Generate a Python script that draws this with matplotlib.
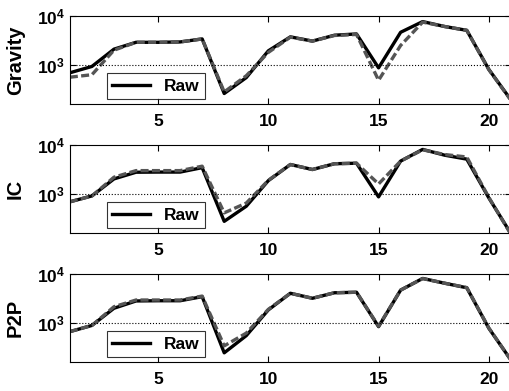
import numpy as np
import matplotlib
matplotlib.use("Agg")
import matplotlib.pyplot as plt
from matplotlib.ticker import FixedLocator, FuncFormatter, NullLocator

plt.rcParams['font.family'] = ['Liberation Sans', 'DejaVu Sans']
plt.rcParams['font.weight'] = 'bold'
plt.rcParams['mathtext.fontset'] = 'custom'
plt.rcParams['mathtext.rm'] = 'Liberation Sans:bold'
plt.rcParams['mathtext.bf'] = 'Liberation Sans:bold'

x = np.arange(1, 22)

# Gravity panel
grav_raw = [690, 930, 2100, 2900, 2900, 2950, 3400, 260, 550, 1940, 3750,
            3070, 4050, 4300, 870, 4650, 7700, 6100, 5100, 810, 193]
grav_est = [560, 630, 2000, 2900, 2900, 2950, 3400, 280, 600, 1800, 3700,
            3070, 4000, 4200, 485, 2500, 7500, 6100, 5100, 800, 190]

# IC panel
ic_raw = [690, 910, 2030, 2780, 2800, 2800, 3450, 275, 560, 1870, 4000,
          3160, 4150, 4250, 870, 4700, 8150, 6200, 5150, 830, 155]
ic_est = [690, 910, 2200, 3000, 3000, 3000, 3700, 410, 650, 1900, 4000,
          3160, 4150, 4250, 1600, 4700, 8000, 6400, 5700, 850, 150]

# P2P panel
p2p_raw = [665, 890, 2000, 2820, 2850, 2850, 3450, 245, 550, 1850, 4050,
           3200, 4150, 4250, 840, 4700, 8150, 6500, 5250, 780, 175]
p2p_est = [665, 890, 2150, 2950, 2950, 2950, 3550, 340, 620, 1900, 4050,
           3200, 4150, 4250, 860, 4700, 8100, 6500, 5300, 790, 175]

panels = [("Gravity", grav_raw, grav_est),
          ("IC", ic_raw, ic_est),
          ("P2P", p2p_raw, p2p_est)]

fig = plt.figure(figsize=(5.1, 3.91), dpi=100)
bottoms = [0.734, 0.404, 0.074]

for (name, raw, est), b in zip(panels, bottoms):
    ax = fig.add_axes([0.137, b, 0.8647, 0.225])
    ax.plot(x, raw, color='black', lw=2.4, label='Raw')
    ax.plot(x, est, color='#555555', lw=2.4, ls=(0, (2.4, 1.0)))
    ax.axhline(1000, color='black', lw=0.8, ls=':')
    ax.set_yscale('log')
    ax.set_xlim(1, 21)
    ax.set_ylim(10**2.2, 10**4)
    ax.xaxis.set_major_locator(FixedLocator([5, 10, 15, 20]))
    ax.yaxis.set_major_locator(FixedLocator([1e3, 1e4]))
    ax.yaxis.set_minor_locator(NullLocator())
    ax.yaxis.set_major_formatter(FuncFormatter(
        lambda v, p: r'$\mathbf{10^{%d}}$' % round(np.log10(v))))
    ax.tick_params(direction='in', top=True, right=True, labelsize=12.5,
                   length=4, width=0.8)
    ax.tick_params(axis='x', pad=7)
    for s in ax.spines.values():
        s.set_linewidth(0.8)
    ax.set_ylabel(name, fontsize=14.5, fontweight='bold')
    ax.yaxis.set_label_coords(-0.102, 0.5)
    leg = ax.legend(loc='lower left', bbox_to_anchor=(0.084, 0.057),
                    fontsize=12.5, frameon=True, fancybox=False,
                    handlelength=2.2, borderpad=0.3, borderaxespad=0)
    leg.get_frame().set_edgecolor('black')
    leg.get_frame().set_linewidth(0.8)

fig.savefig("out.png", dpi=100)
